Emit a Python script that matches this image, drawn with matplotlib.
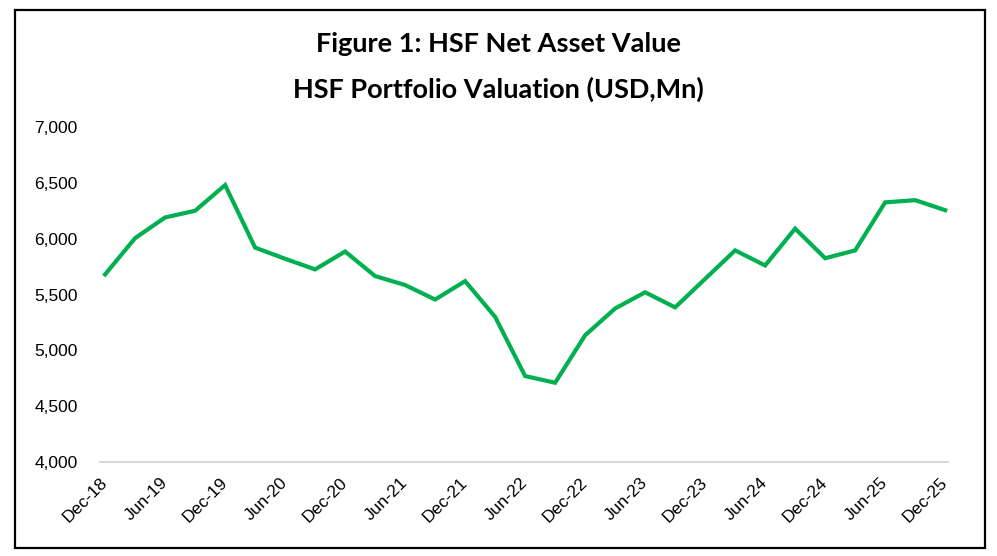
import matplotlib
matplotlib.use("Agg")
import matplotlib.pyplot as plt
import matplotlib.transforms as mtransforms
from matplotlib.patches import Rectangle

# quarterly NAV, Dec-18 .. Dec-25 (USD Mn)
quarters = ["Dec-18", "Mar-19", "Jun-19", "Sep-19", "Dec-19", "Mar-20", "Jun-20", "Sep-20",
            "Dec-20", "Mar-21", "Jun-21", "Sep-21", "Dec-21", "Mar-22", "Jun-22", "Sep-22",
            "Dec-22", "Mar-23", "Jun-23", "Sep-23", "Dec-23", "Mar-24", "Jun-24", "Sep-24",
            "Dec-24", "Mar-25", "Jun-25", "Sep-25", "Dec-25"]
nav = [5680, 6005, 6190, 6250, 6480, 5920, 5820, 5725,
       5885, 5665, 5585, 5455, 5620, 5300, 4770, 4710,
       5135, 5375, 5520, 5385, 5640, 5895, 5760, 6090,
       5825, 5895, 6325, 6345, 6255]
yticks = [4000, 4500, 5000, 5500, 6000, 6500, 7000]

plt.rcParams["font.family"] = ["Liberation Sans", "DejaVu Sans"]

fig = plt.figure(figsize=(9.97, 5.56), dpi=100)
ax = fig.add_axes([0.1003, 0.169, 0.8507, 0.6026])

x = list(range(len(quarters)))
ax.plot(x, nav, color="#00B050", lw=3.0, solid_joinstyle="miter")

ax.set_ylim(4000, 7000)
ax.set_xlim(-0.17, 28.1)
ax.set_yticks(yticks)
ax.set_yticklabels([f"{v:,}" for v in yticks], fontsize=12.5, family="Liberation Sans")
ax.set_xticks(x[::2])
ax.set_xticklabels(quarters[::2], rotation=45, ha="right", va="top", fontsize=12.5,
                   family="Liberation Sans")
ax.tick_params(axis="both", length=0, colors="black")
ax.tick_params(axis="y", pad=16)
ax.tick_params(axis="x", pad=9)
# nudge rotated labels a little right, like the Excel original
shift = mtransforms.ScaledTranslation(4 / 72, 0, fig.dpi_scale_trans)
for lab in ax.get_xticklabels():
    lab.set_transform(lab.get_transform() + shift)
for s in ["top", "right", "left"]:
    ax.spines[s].set_visible(False)
ax.spines["bottom"].set_color("#D9D9D9")
ax.spines["bottom"].set_linewidth(1.5)

fig.text(0.5, 0.906, "Figure 1: HSF Net Asset Value", ha="center", va="baseline",
         fontsize=19.5, fontweight="bold", family=["Lato", "DejaVu Sans"])
fig.text(0.5, 0.824, "HSF Portfolio Valuation (USD,Mn)", ha="center", va="baseline",
         fontsize=19.5, fontweight="bold", family=["Lato", "DejaVu Sans"])

# outer frame
fig.patches.append(Rectangle((15 / 997, 1 - 548 / 556), 970 / 997, 538 / 556,
                             transform=fig.transFigure, fill=False, ec="black", lw=1.6))

fig.savefig("out.png", dpi=100)
